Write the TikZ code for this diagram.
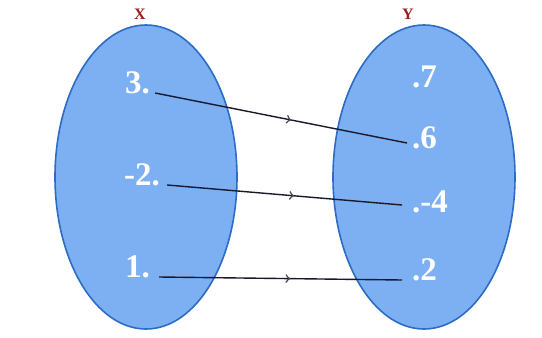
\documentclass[tikz,border=0pt]{standalone}
\usepackage{fontspec}
\setmainfont{Liberation Serif}
\usetikzlibrary{decorations.markings}
\definecolor{setfill}{RGB}{124,176,243}
\definecolor{setdraw}{RGB}{45,108,196}
\definecolor{setred}{RGB}{160,28,28}
\definecolor{linecol}{RGB}{25,25,45}
\tikzset{
  setshape/.style={fill=setfill, draw=setdraw, line width=1.6pt},
  elem/.style={text=white, font=\fontsize{33}{33}\selectfont\bfseries, inner sep=0pt, anchor=base west},
  setname/.style={text=setred, font=\fontsize{16}{16}\selectfont\bfseries, inner sep=0pt, anchor=base},
  maparrow/.style={draw=linecol, line width=1.4pt,
    postaction={decorate},
    decoration={markings, mark=at position 0.54 with {\arrow[draw=gray!60!black, line width=1pt, scale=1.6]{>}}}}
}
\begin{document}
\begin{tikzpicture}[x=1pt,y=-1pt]
\useasboundingbox (0,0) rectangle (542,338);
\clip (0,0) rectangle (542,338);
\fill[white] (0,0) rectangle (542,338);
% set names
\node[setname] (X) at (140,19) {X};
\node[setname] (Y) at (408,19) {Y};
% sets
\path[setshape] (146,177) ellipse [x radius=91pt, y radius=152pt];
\path[setshape] (424,177) ellipse [x radius=91pt, y radius=152pt];
% elements
\node[elem] (a3) at (125,93) {3.};
\node[elem] (am2) at (124,185) {-2.};
\node[elem] (a1) at (125,277) {1.};
\node[elem] (b7) at (412,87) {.7};
\node[elem] (b6) at (412,148) {.6};
\node[elem] (bm4) at (412,212) {.-4};
\node[elem] (b2) at (412,280) {.2};
% mappings
\draw[maparrow] ([xshift=5pt]a3.base east) -- ([xshift=-5pt,yshift=5pt]b6.base west);
\draw[maparrow] ([xshift=7pt]am2.base east) -- ([xshift=-10pt,yshift=7pt]bm4.base west);
\draw[maparrow] ([xshift=9pt]a1.base east) -- ([xshift=-10pt]b2.base west);
\end{tikzpicture}
\end{document}
